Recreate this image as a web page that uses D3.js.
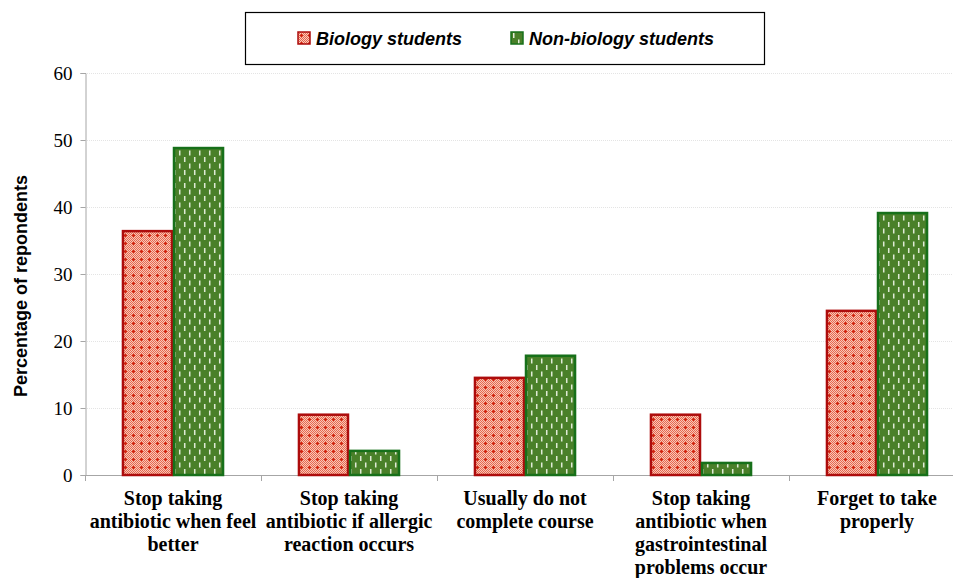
<!doctype html>
<html>
<head>
<meta charset="UTF-8">
<title>Antibiotic behaviour</title>
<style>
  body { margin: 0; background: #fff; }
  #chart { font-size: 0; }
</style>
</head>
<body>
<div id="chart"></div>
<script src="https://cdn.jsdelivr.net/npm/d3@7"></script>
<script>
var categories = [
  ["Stop taking", "antibiotic when feel", "better"],
  ["Stop taking", "antibiotic if allergic", "reaction occurs"],
  ["Usually do not", "complete course"],
  ["Stop taking", "antibiotic when", "gastrointestinal", "problems occur"],
  ["Forget to take", "properly"]
];
var seriesNames = ["Biology students", "Non-biology students"];
var biology = [36.4, 9.0, 14.5, 9.0, 24.5];
var nonBiology = [48.8, 3.6, 17.8, 1.8, 39.1];
var yTicks = [0, 10, 20, 30, 40, 50, 60];

var w = 953, h = 578;
var plotLeft = 85, plotTop = 73, plotBottom = 475;

var svg = d3.select("#chart").append("svg")
  .attr("width", w)
  .attr("height", h);

// fill patterns
var defs = svg.append("defs");
var pr = defs.append("pattern")
  .attr("id", "redPat")
  .attr("patternUnits", "userSpaceOnUse")
  .attr("width", 8).attr("height", 8);
pr.append("rect").attr("width", 8).attr("height", 8).attr("fill", "#f9cabd");
for (var i = 0; i < 8; i++) {
  for (var j = 0; j < 8; j++) {
    if ((i + j) % 2 === 0) {
      pr.append("rect").attr("x", i).attr("y", j).attr("width", 1).attr("height", 1).attr("fill", "#e5644a");
    }
  }
}
pr.append("rect").attr("x", 3).attr("y", 2).attr("width", 1).attr("height", 3).attr("fill", "#d0220f");
pr.append("rect").attr("x", 2).attr("y", 3).attr("width", 3).attr("height", 1).attr("fill", "#d0220f");

var pg = defs.append("pattern")
  .attr("id", "greenPat")
  .attr("patternUnits", "userSpaceOnUse")
  .attr("width", 10).attr("height", 13);
pg.append("rect").attr("width", 10).attr("height", 13).attr("fill", "#4a8029");
pg.append("rect").attr("x", 2).attr("y", 1).attr("width", 1.5).attr("height", 5).attr("fill", "#e2ecd9");
pg.append("rect").attr("x", 7).attr("y", 7.5).attr("width", 1.5).attr("height", 5).attr("fill", "#e2ecd9");

var x0 = d3.scaleBand()
  .domain(d3.range(categories.length))
  .range([plotLeft, plotLeft + 176 * categories.length])
  .paddingInner(0.42)
  .paddingOuter(0.21);
var x1 = d3.scaleBand()
  .domain([0, 1])
  .range([0, x0.bandwidth()]);
var y = d3.scaleLinear().domain([0, 60]).range([plotBottom, plotTop]);

// gridlines
svg.append("g").selectAll("line")
  .data(yTicks.slice(1))
  .enter().append("line")
  .attr("x1", plotLeft).attr("x2", w)
  .attr("y1", function (d) { return y(d) + 0.5; })
  .attr("y2", function (d) { return y(d) + 0.5; })
  .attr("stroke", "#e4e4e4")
  .attr("stroke-dasharray", "1,1");

// y axis
var yAxis = svg.append("g")
  .attr("transform", "translate(" + (plotLeft + 0.5) + ",0)")
  .call(d3.axisLeft(y).tickValues(yTicks).tickSize(5).tickPadding(8));
yAxis.select(".domain").attr("stroke", "#a6a6a6");
yAxis.selectAll(".tick line").attr("stroke", "#a6a6a6");
yAxis.selectAll("text")
  .attr("font-family", "Liberation Serif, Times New Roman, serif")
  .attr("font-size", 19)
  .attr("fill", "#000");

// x axis (tick marks between categories)
var xBounds = d3.range(categories.length + 1).map(function (i) { return plotLeft + 176 * i; });
svg.append("line")
  .attr("x1", plotLeft).attr("x2", w)
  .attr("y1", plotBottom + 0.5).attr("y2", plotBottom + 0.5)
  .attr("stroke", "#a6a6a6");
svg.append("g").selectAll("line")
  .data(xBounds)
  .enter().append("line")
  .attr("x1", function (d) { return d + 0.5; })
  .attr("x2", function (d) { return d + 0.5; })
  .attr("y1", plotBottom).attr("y2", plotBottom + 6)
  .attr("stroke", "#a6a6a6");

// bars
var groups = svg.append("g").selectAll("g")
  .data(categories)
  .enter().append("g")
  .attr("transform", function (d, i) { return "translate(" + x0(i) + ",0)"; });

var fills = ["url(#redPat)", "url(#greenPat)"];
var strokes = ["#ad0c0c", "#17701a"];
groups.selectAll("rect")
  .data(function (d, i) { return [biology[i], nonBiology[i]]; })
  .enter().append("rect")
  .attr("x", function (d, k) { return x1(k) + 1; })
  .attr("y", function (d) { return y(d); })
  .attr("width", x1.bandwidth() - 2)
  .attr("height", function (d) { return plotBottom - y(d); })
  .attr("fill", function (d, k) { return fills[k]; })
  .attr("stroke", function (d, k) { return strokes[k]; })
  .attr("stroke-width", 2.5);

// category labels
groups.append("text")
  .attr("x", x0.bandwidth() / 2)
  .attr("text-anchor", "middle")
  .attr("font-family", "Liberation Serif, Times New Roman, serif")
  .attr("font-weight", "bold")
  .attr("font-size", 20)
  .attr("fill", "#000")
  .selectAll("tspan")
  .data(function (d) { return d; })
  .enter().append("tspan")
  .attr("x", x0.bandwidth() / 2)
  .attr("y", function (d, i) { return 505 + i * 23; })
  .text(function (d) { return d; });

// y axis title
svg.append("text")
  .attr("transform", "translate(27,286) rotate(-90)")
  .attr("text-anchor", "middle")
  .attr("font-family", "Liberation Sans, Arial, sans-serif")
  .attr("font-weight", "bold")
  .attr("font-size", 18)
  .attr("fill", "#000")
  .text("Percentage of repondents");

// legend
var legend = svg.append("g");
legend.append("rect")
  .attr("x", 245.5).attr("y", 12.5)
  .attr("width", 519).attr("height", 52)
  .attr("fill", "#fff")
  .attr("stroke", "#000")
  .attr("stroke-width", 1.2);
var legendX = [298, 511];
var items = legend.selectAll("g.item")
  .data(seriesNames)
  .enter().append("g")
  .attr("class", "item")
  .attr("transform", function (d, i) { return "translate(" + legendX[i] + ",32)"; });
items.append("rect")
  .attr("width", 12).attr("height", 12)
  .attr("fill", function (d, i) { return fills[i]; })
  .attr("stroke", function (d, i) { return strokes[i]; })
  .attr("stroke-width", 1.5);
items.append("text")
  .attr("x", 18).attr("y", 13)
  .attr("font-family", "Liberation Sans, Arial, sans-serif")
  .attr("font-weight", "bold")
  .attr("font-style", "italic")
  .attr("font-size", 18)
  .attr("fill", "#000")
  .text(function (d) { return d; });
</script>
</body>
</html>
